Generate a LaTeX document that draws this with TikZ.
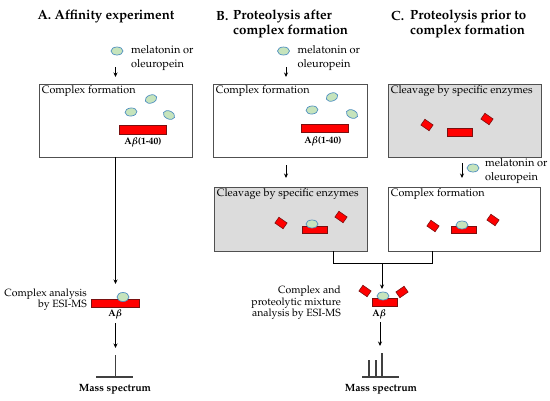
\documentclass[tikz,border=0pt]{standalone}
\usepackage[T1]{fontenc}
\usepackage{mathpazo}
\usetikzlibrary{shapes.geometric,arrows.meta}
\definecolor{ligf}{HTML}{C6E4BC}
\definecolor{ligb}{HTML}{4F8FC0}
\definecolor{pepf}{HTML}{FF0000}
\definecolor{pepb}{HTML}{7A1010}
\definecolor{boxb}{HTML}{505050}
\definecolor{boxg}{HTML}{DCDCDC}
\definecolor{msl}{HTML}{404040}
\tikzset{
  lig/.style={ellipse, draw=ligb, fill=ligf, line width=0.7pt, minimum width=12pt, minimum height=8pt, inner sep=0pt},
  pep/.style={rectangle, draw=pepb, fill=pepf, line width=0.6pt, inner sep=0pt},
  frag/.style={pep, minimum width=10pt, minimum height=7pt},
  stage/.style={rectangle, draw=boxb, line width=0.7pt, inner sep=0pt},
  gstage/.style={stage, fill=boxg},
  stagetxt/.style={anchor=north west, inner sep=0pt, font=\fontsize{10.8}{12}\selectfont},
  small/.style={inner sep=0pt, font=\fontsize{10.5}{10.5}\selectfont},
  lbl/.style={inner sep=0pt, font=\fontsize{11}{14}\selectfont},
  title/.style={inner sep=0pt, font=\fontsize{13.3}{15.6}\selectfont\bfseries},
  ablab/.style={inner sep=0pt, font=\fontsize{9.5}{10}\selectfont\bfseries\boldmath},
  mslab/.style={inner sep=0pt, font=\fontsize{10.5}{11}\selectfont\bfseries},
  arr/.style={-{Stealth[length=4.5pt,width=4pt]}, line width=0.9pt},
  wire/.style={line width=0.9pt},
  ms/.style={line width=1.1pt, draw=msl}
}
\begin{document}
\begin{tikzpicture}[x=1pt,y=-1pt]
\useasboundingbox (0,0) rectangle (550,400);

% ---------- titles ----------
\node[title] (tA) at (106,16) {A. Affinity experiment};
\node[title, anchor=west] (tBl) at (216,16) {B.};
\node[title, align=left, anchor=west] (tB) at (233,24) {Proteolysis after\\complex formation};
\node[title, anchor=west] (tCl) at (391,16) {C.};
\node[title, align=left, anchor=west] (tC) at (410,24) {Proteolysis prior to\\complex formation};

% ================= Panel A =================
\node[lig] (eA) at (117,51) {};
\node[lbl, anchor=west, align=left] (mA) at (131,58) {melatonin or\\oleuropein};
\coordinate (a0) at (115.5,67);
\node[stage, minimum width=153pt, minimum height=73pt] (boxA) at (115.5,120.5) {};
\node[stagetxt] (boxAt) at ([shift={(3pt,-2pt)}]boxA.north west) {Complex formation};
\coordinate (a1) at (115.5,77);
\draw[arr] (a0) -- (a1);
\node[lig, rotate=20] (eA1) at (151,99) {};
\node[lig, rotate=5] (eA2) at (131,112) {};
\node[lig, rotate=-25] (eA3) at (169,115) {};
\node[pep, minimum width=47pt, minimum height=9pt] (pA) at (142.5,129.5) {};
\node[ablab] (pAl) at (143,142) {A$\beta$(1-40)};

\coordinate (a2) at (115.5,157);
\coordinate (a3) at (115.5,284);
\draw[arr] (a2) -- (a3);
\node[pep, minimum width=48pt, minimum height=8pt] (cA) at (115,303) {};
\node[lig, minimum height=9pt] (cAe) at (123,297) {};
\node[ablab] (cAl) at (115,314) {A$\beta$};
\node[small, anchor=east, align=right] (cAt) at (87,299.5) {Complex analysis\\by ESI-MS};
\coordinate (a4) at (115.5,323);
\coordinate (a5) at (115.5,348);
\draw[arr] (a4) -- (a5);
\coordinate (msA1) at (115.5,355);
\coordinate (msA0) at (115.5,377);
\coordinate (msAl) at (96,377);
\coordinate (msAr) at (133,377);
\draw[ms] (msA1) -- (msA0);
\draw[ms] (msAl) -- (msAr);
\node[mslab] (msAt) at (115,389) {Mass spectrum};

% ================= Panel B =================
\node[lig] (eB) at (283.5,51) {};
\node[lbl, anchor=west, align=left] (mB) at (297.5,58) {melatonin or\\oleuropein};
\coordinate (b0) at (286,67);
\coordinate (b1) at (286,77);
\draw[arr] (b0) -- (b1);
\node[stage, minimum width=154pt, minimum height=73pt] (boxB1) at (290,120.5) {};
\node[stagetxt] (boxB1t) at ([shift={(3pt,-2pt)}]boxB1.north west) {Complex formation};
\node[lig, rotate=20] (eB1) at (332,97) {};
\node[lig, rotate=5] (eB2) at (312,110) {};
\node[lig, rotate=-25] (eB3) at (352,114) {};
\node[pep, minimum width=47pt, minimum height=8pt] (pB) at (324.5,128) {};
\node[ablab] (pBl) at (323,141) {A$\beta$(1-40)};
\coordinate (b2) at (286,165);
\coordinate (b3) at (286,178);
\draw[arr] (b2) -- (b3);
\node[gstage, minimum width=153pt, minimum height=64pt] (boxB2) at (290.5,219) {};
\node[stagetxt] (boxB2t) at ([shift={(3pt,-2pt)}]boxB2.north west) {Cleavage by specific enzymes};
\node[frag, rotate=-35] (fB1) at (281,223) {};
\node[frag, rotate=-35] (fB2) at (341,217) {};
\node[pep, minimum width=25pt, minimum height=7pt] (pB2) at (314.5,229.5) {};
\node[lig] (eB4) at (312,224) {};

% ================= Panel C =================
\node[gstage, minimum width=153pt, minimum height=73pt] (boxC1) at (464.5,120.5) {};
\node[stagetxt] (boxC1t) at ([shift={(3pt,-2pt)}]boxC1.north west) {Cleavage by specific enzymes};
\node[frag, rotate=-35] (fC1) at (427,125) {};
\node[frag, rotate=-35] (fC2) at (487,119) {};
\node[pep, minimum width=25pt, minimum height=8pt] (pC1) at (459.5,132) {};
\coordinate (c0) at (462,163);
\coordinate (c1) at (462,178);
\draw[arr] (c0) -- (c1);
\node[lig] (eC) at (473,168) {};
\node[lbl, anchor=west, align=left] (mC) at (485,171.5) {melatonin or\\oleuropein};
\node[stage, minimum width=152pt, minimum height=64pt] (boxC2) at (464,219) {};
\node[stagetxt] (boxC2t) at ([shift={(3pt,-2pt)}]boxC2.north west) {Complex formation};
\node[frag, rotate=-35] (fC3) at (433,226) {};
\node[frag, rotate=-35] (fC4) at (493,220) {};
\node[pep, minimum width=25pt, minimum height=7pt] (pC2) at (464,230) {};
\node[lig] (eC2) at (462,225) {};

% ---------- joining ----------
\coordinate (jB) at (333,251);
\coordinate (jC) at (432,251);
\coordinate (jBd) at (333,263);
\coordinate (jCd) at (432,263);
\coordinate (jM) at (382,263);
\coordinate (jE) at (382,289);
\draw[wire] (jB) -- (jBd) -- (jCd) -- (jC);
\draw[arr] (jM) -- (jE);

\node[pep, minimum width=25pt, minimum height=8pt] (cBC) at (384.5,302) {};
\node[lig] (cBCe) at (383,296) {};
\node[frag, rotate=-35] (fD1) at (365,291) {};
\node[frag, rotate=35] (fD2) at (402,292) {};
\node[ablab] (cBCl) at (379,314) {A$\beta$};
\node[small, anchor=east, align=right] (cBCt) at (341,303) {Complex and\\proteolytic mixture\\analysis by ESI-MS};
\coordinate (d0) at (380,322);
\coordinate (d1) at (380,346);
\draw[arr] (d0) -- (d1);
\coordinate (msBl) at (362,377);
\coordinate (msBr) at (399,377);
\coordinate (p1t) at (369,360);
\coordinate (p1b) at (369,377);
\coordinate (p2t) at (376,360);
\coordinate (p2b) at (376,377);
\coordinate (p3t) at (382,353);
\coordinate (p3b) at (382,377);
\draw[ms] (msBl) -- (msBr);
\draw[ms] (p1t) -- (p1b);
\draw[ms] (p2t) -- (p2b);
\draw[ms] (p3t) -- (p3b);
\node[mslab] (msBt) at (381,389) {Mass spectrum};
\end{tikzpicture}
\end{document}
